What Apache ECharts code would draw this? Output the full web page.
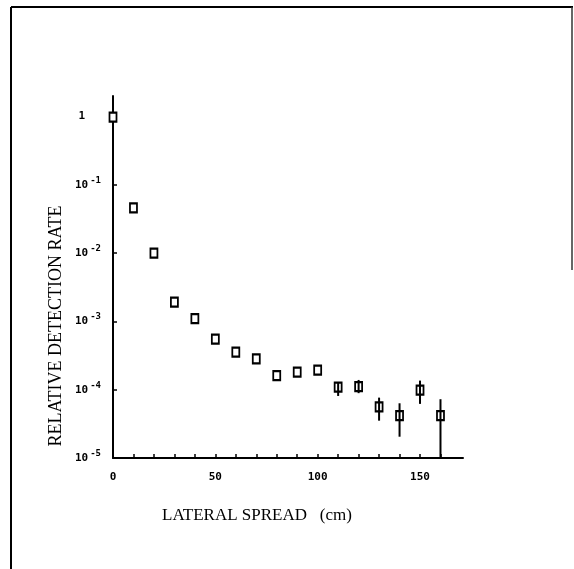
<!DOCTYPE html>
<html>
<head>
<meta charset="utf-8">
<script src="https://cdn.jsdelivr.net/npm/echarts@6/dist/echarts.min.js"></script>
<style>
html,body{margin:0;padding:0;background:#fff;}
#c{width:574px;height:569px;}
</style>
</head>
<body>
<div id="c"></div>
<script>
// Lateral spread (cm)
var spread = [0, 10, 20, 30, 40, 50, 60, 70, 80, 90, 100, 110, 120, 130, 140, 150, 160];
// Relative detection rate
var rate = [0.98, 0.046, 0.010, 0.00192, 0.0011, 5.5e-4, 3.55e-4, 2.83e-4, 1.61e-4, 1.81e-4, 1.93e-4, 1.09e-4, 1.11e-4, 5.6e-5, 4.17e-5, 9.9e-5, 4.17e-5];
// Error bars
var errX = [110, 120, 130, 140, 150, 160];
var errLow = [8.1e-5, 8.9e-5, 3.52e-5, 2.05e-5, 6.2e-5, 1e-5];
var errHigh = [1.29e-4, 1.39e-4, 7.66e-5, 6.33e-5, 1.36e-4, 7.26e-5];
// Axis ticks and labels
var xTicks = [10, 20, 30, 40, 50, 60, 70, 80, 90, 100, 110, 120, 130, 140, 150, 160];
var xLabels = [0, 50, 100, 150];
var yTicks = [1e-5, 1e-4, 1e-3, 1e-2, 1e-1, 1];

var chart = echarts.init(document.getElementById('c'));
var points = spread.map(function (x, i) { return [x, rate[i]]; });
var bars = errX.map(function (x, i) { return [x, errLow[i], errHigh[i]]; });

var option = {
  animation: false,
  backgroundColor: '#fff',
  grid: { left: 113, right: 111, top: 96, bottom: 111 },
  xAxis: {
    type: 'value', min: 0, max: 171,
    axisLine: { show: true, lineStyle: { color: '#000', width: 2 } },
    axisTick: { show: true, inside: true, length: 4, customValues: xTicks, lineStyle: { color: '#000', width: 1.5 } },
    axisLabel: {
      customValues: xLabels, margin: 14, color: '#000',
      fontFamily: 'DejaVu Sans Mono', fontWeight: 'bold', fontSize: 11
    },
    splitLine: { show: false }
  },
  yAxis: {
    type: 'log', logBase: 10, min: 1e-5, max: 2,
    axisLine: { show: true, lineStyle: { color: '#000', width: 2 } },
    axisTick: { show: true, inside: true, length: 4, customValues: yTicks, lineStyle: { color: '#000', width: 1.5 } },
    axisLabel: {
      customValues: yTicks, margin: 12, color: '#000',
      fontFamily: 'DejaVu Sans Mono', fontWeight: 'bold', fontSize: 11,
      formatter: function (v) {
        var e = Math.round(Math.log10(v));
        if (e === 0) return '{one|1}';
        return '{b|10}{s|' + e + '}';
      },
      rich: {
        one: { fontFamily: 'DejaVu Sans Mono', fontWeight: 'bold', fontSize: 11, padding: [0, 16, 0, 0] },
        b: { fontFamily: 'DejaVu Sans Mono', fontWeight: 'bold', fontSize: 11 },
        s: { fontFamily: 'DejaVu Sans Mono', fontWeight: 'bold', fontSize: 9, padding: [0, 0, 9, 2] }
      }
    },
    splitLine: { show: false }
  },
  series: [
    {
      type: 'scatter',
      data: points,
      symbol: 'rect',
      symbolSize: [7, 9],
      itemStyle: { color: '#fff', borderColor: '#000', borderWidth: 2, opacity: 1 },
      z: 2
    },
    {
      type: 'custom',
      data: bars,
      encode: { x: 0, y: [1, 2] },
      renderItem: function (params, api) {
        var x = api.value(0);
        var p1 = api.coord([x, api.value(2)]);
        var p2 = api.coord([x, api.value(1)]);
        return {
          type: 'line',
          shape: { x1: p1[0], y1: p1[1], x2: p2[0], y2: p2[1] },
          style: { stroke: '#000', lineWidth: 2 }
        };
      },
      z: 3
    }
  ],
  graphic: [
    { type: 'line', shape: { x1: 11, y1: 7, x2: 573, y2: 7 }, style: { stroke: '#000', lineWidth: 2 } },
    { type: 'line', shape: { x1: 11, y1: 7, x2: 11, y2: 569 }, style: { stroke: '#000', lineWidth: 2 } },
    { type: 'line', shape: { x1: 572, y1: 7, x2: 572, y2: 270 }, style: { stroke: '#333', lineWidth: 1.5 } },
    {
      type: 'text', x: 56, y: 326, rotation: Math.PI / 2,
      style: {
        text: 'RELATIVE DETECTION RATE', fill: '#000',
        font: '18px "Liberation Serif"', align: 'center', verticalAlign: 'middle'
      }
    },
    {
      type: 'text', x: 162, y: 516,
      style: {
        text: 'LATERAL SPREAD   (cm)', fill: '#000',
        font: '17px "Liberation Serif"', align: 'left', verticalAlign: 'middle'
      }
    }
  ]
};
chart.setOption(option);
</script>
</body>
</html>
